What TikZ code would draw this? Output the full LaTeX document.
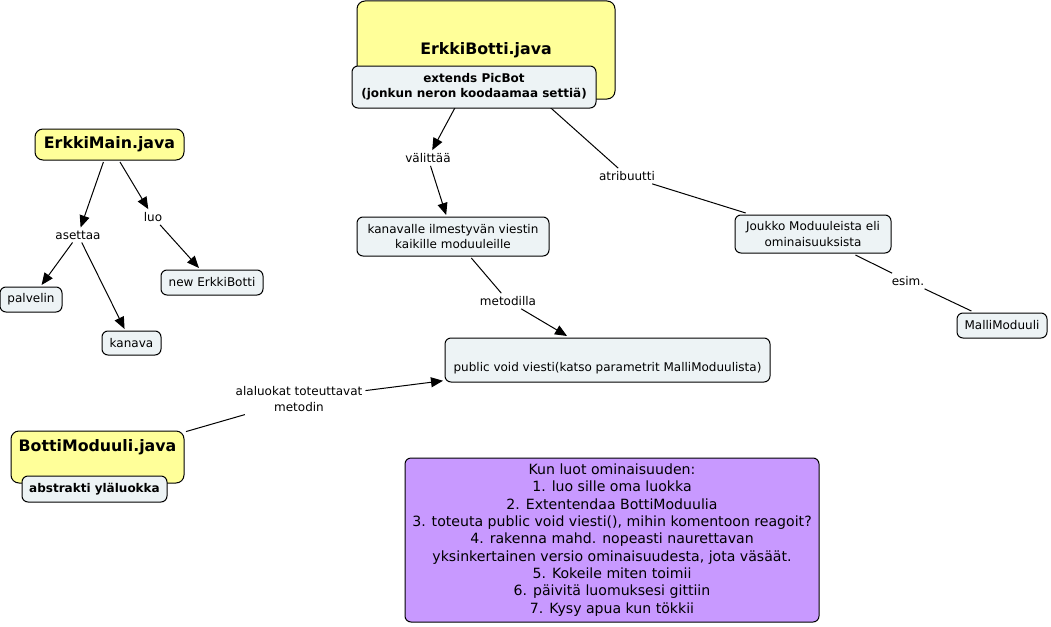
\documentclass[tikz,border=0pt]{standalone}
\usepackage{fontspec}
\setmainfont{DejaVu Sans}
\usetikzlibrary{arrows.meta,backgrounds}
\definecolor{conceptfill}{RGB}{237,243,245}
\definecolor{classfill}{RGB}{255,255,153}
\definecolor{notefill}{RGB}{200,153,255}
\tikzset{
  concept/.style={draw=black,fill=conceptfill,rounded corners=6pt,line width=1pt,align=center,
    font=\fontsize{12}{15.5}\selectfont,inner sep=0pt,outer sep=2pt},
  classbox/.style={draw=black,fill=classfill,rounded corners=8pt,line width=1pt,align=center,
    font=\bfseries\fontsize{15.8}{18}\selectfont,inner sep=0pt,outer sep=2pt},
  subclass/.style={concept,font=\bfseries\fontsize{12}{15}\selectfont},
  linkword/.style={align=center,font=\fontsize{12}{15.5}\selectfont,inner sep=3pt},
  link/.style={line width=1pt},
  arrowlink/.style={line width=1pt,-{Triangle[length=12pt,width=10pt]}},
}
\begin{document}
\begin{tikzpicture}[x=1pt,y=-1pt]
    \useasboundingbox (0,0) rectangle (1051,626);
    % luokat
    \node[classbox,minimum width=258pt,minimum height=98pt] (erkkibotti) at (486,50) {ErkkiBotti.java};
    \node[subclass,minimum width=244pt,minimum height=42pt] (extends) at (474,87) {extends PicBot\\(jonkun neron koodaamaa settiä)};
    \node[classbox,minimum width=149pt,minimum height=31pt] (erkkimain) at (109.5,144.5) {ErkkiMain.java};
    \node[classbox,minimum width=173pt,minimum height=52pt] (bottimoduuli) at (97.5,457) {BottiModuuli.java\\\strut};
    \node[subclass,minimum width=145pt,minimum height=26pt] (abstrakti) at (94.5,489) {abstrakti yläluokka};
    % kasitteet
    \node[concept,minimum width=62pt,minimum height=25pt] (palvelin) at (31,299.5) {palvelin};
    \node[concept,minimum width=59pt,minimum height=24pt] (kanava) at (131.5,343) {kanava};
    \node[concept,minimum width=102pt,minimum height=25pt] (newbotti) at (212,282.5) {new ErkkiBotti};
    \node[concept,minimum width=192pt,minimum height=39pt] (kanavalle) at (453,236.5) {kanavalle ilmestyvän viestin\\kaikille moduuleille};
    \node[concept,minimum width=156pt,minimum height=38pt] (joukko) at (813,234) {Joukko Moduuleista eli\\ominaisuuksista};
    \node[concept,minimum width=90pt,minimum height=25pt] (mallimoduuli) at (1002,325.5) {MalliModuuli};
    \node[concept,minimum width=325pt,minimum height=44pt] (viesti) at (607.5,360) {\strut\\public void viesti(katso parametrit MalliModuulista)};
    \node[concept,fill=notefill,minimum width=414pt,minimum height=164pt,font=\fontsize{14.1}{17.3}\selectfont] (ohje) at (612,540)
      {Kun luot ominaisuuden:\\1. luo sille oma luokka\\2. Extentendaa BottiModuulia\\3. toteuta public void viesti(), mihin komentoon reagoit?\\4. rakenna mahd. nopeasti naurettavan\\yksinkertainen versio ominaisuudesta, jota väsäät.\\5. Kokeile miten toimii\\6. päivitä luomuksesi gittiin\\7. Kysy apua kun tökkii};
    % linkkisanat
    \node[linkword] (asettaa) at (78,235) {asettaa};
    \node[linkword] (luo) at (153,217) {luo};
    \node[linkword] (valittaa) at (428,158) {välittää};
    \node[linkword] (atribuutti) at (627,176) {atribuutti};
    \node[linkword] (metodilla) at (508,301) {metodilla};
    \node[linkword] (esim) at (908,281) {esim.};
    \node[linkword] (alaluokat) at (299,399) {alaluokat toteuttavat\\metodin};
    % yhteydet
    \begin{scope}[on background layer]
    \draw[arrowlink] (erkkimain) -- (asettaa);
    \draw[arrowlink] (asettaa) -- (palvelin);
    \draw[arrowlink] (asettaa) -- (kanava);
    \draw[arrowlink] (erkkimain) -- (luo);
    \draw[arrowlink] (luo) -- (newbotti);
    \draw[arrowlink] (erkkibotti) -- (valittaa);
    \draw[arrowlink] (valittaa) -- (kanavalle);
    \draw[link] (erkkibotti) -- (atribuutti);
    \draw[link] (atribuutti) -- (joukko);
    \draw[link] (joukko) -- (esim);
    \draw[link] (esim) -- (mallimoduuli);
    \draw[link] (kanavalle) -- (metodilla);
    \draw[arrowlink] (metodilla) -- (viesti);
    \draw[link] (bottimoduuli) -- (alaluokat);
    \draw[arrowlink] (alaluokat) -- (viesti);
    \end{scope}
\end{tikzpicture}
\end{document}
